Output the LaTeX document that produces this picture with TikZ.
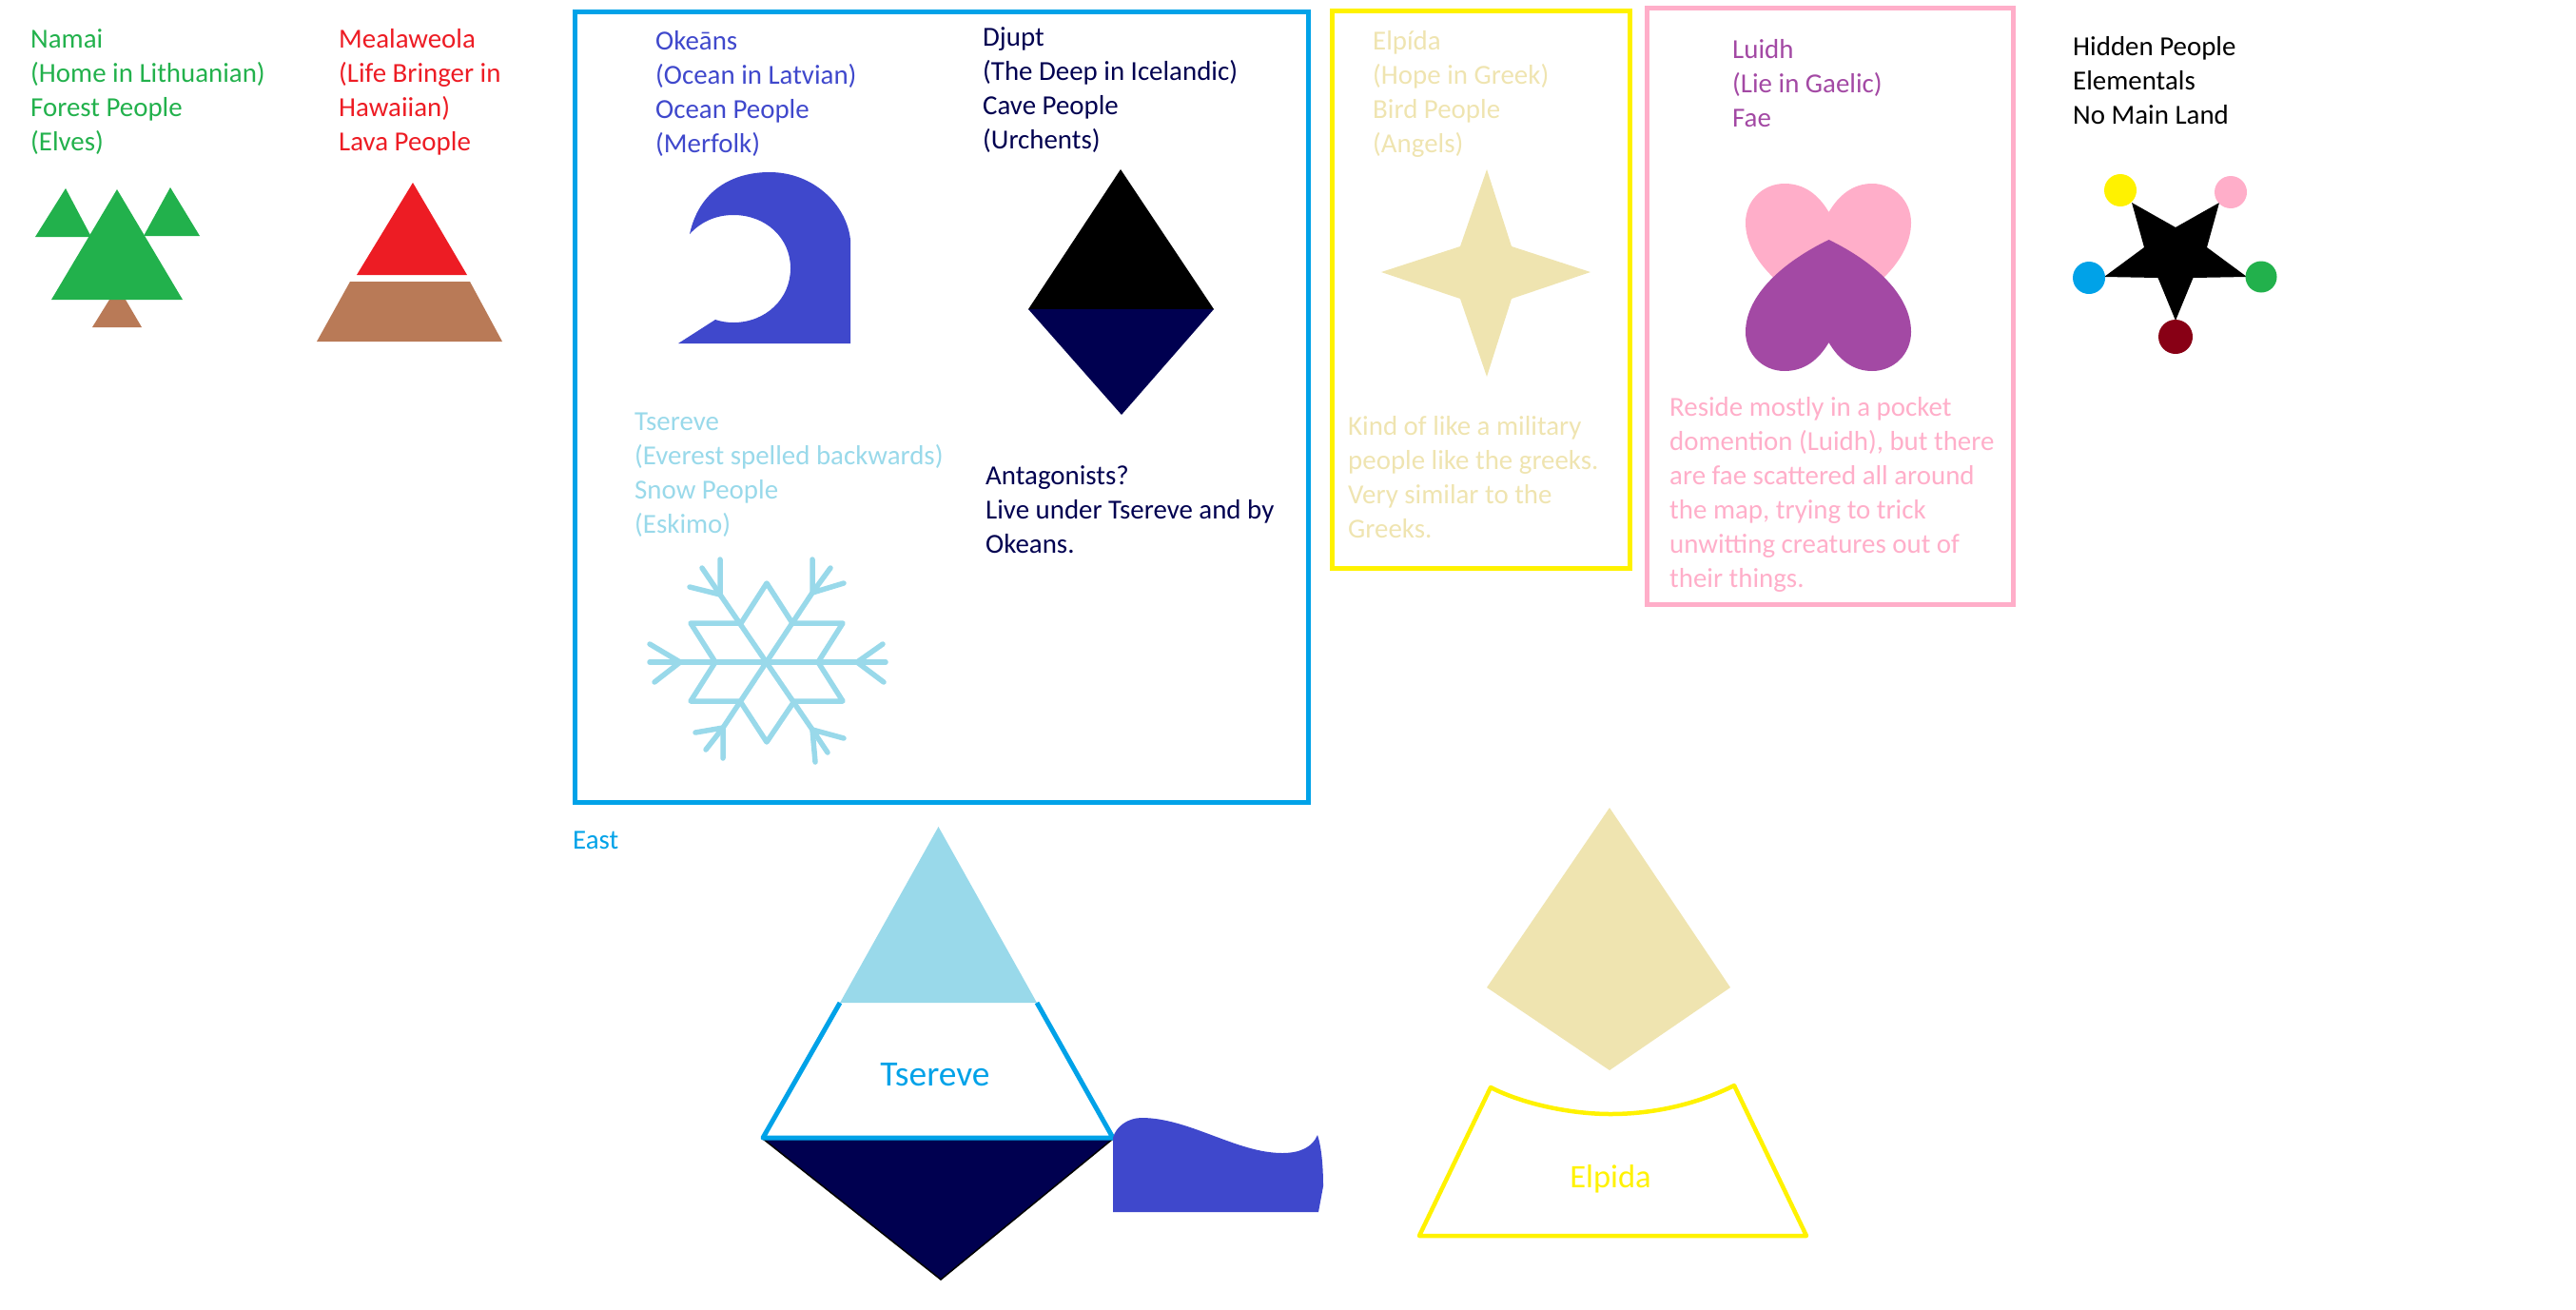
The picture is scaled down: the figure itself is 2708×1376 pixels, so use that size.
\documentclass[tikz,border=0pt]{standalone}
\usepackage{fontspec}
\setmainfont{Carlito}
\definecolor{forest}{HTML}{22B14C}
\definecolor{lava}{HTML}{ED1C24}
\definecolor{earth}{HTML}{B97A57}
\definecolor{ocean}{HTML}{3F48CC}
\definecolor{deep}{HTML}{000050}
\definecolor{east}{HTML}{00A2E8}
\definecolor{snow}{HTML}{99D9EA}
\definecolor{bird}{HTML}{EFE4B0}
\definecolor{sun}{HTML}{FFF200}
\definecolor{fae}{HTML}{FFAEC9}
\definecolor{faedark}{HTML}{A349A4}
\definecolor{blood}{HTML}{880015}
\tikzset{
  lbl/.style={font=\fontsize{28.9}{36}\selectfont,align=left,inner sep=0pt,anchor=base west},
  biglbl/.style={font=\fontsize{37.5}{45}\selectfont,inner sep=0pt,anchor=base},
  frame/.style={line width=5pt},
  flake/.style={snow,line width=5.5pt,line join=round,line cap=round},
  gem/.style={circle,inner sep=0pt,minimum size=#1}
}
\begin{document}
\begin{tikzpicture}[x=1pt,y=-1pt]
    \useasboundingbox (0,0) rectangle (2708,1376);

    % Forest people
    \node[lbl,forest] (namai) at (32,158) {Namai\\(Home in Lithuanian)\\Forest People\\(Elves)};
    \fill[earth] (115,315) -- (132,315) -- (149,344) -- (97,344) -- cycle;
    \fill[forest] (69,198) -- (96,249) -- (37,249) -- cycle;
    \fill[forest] (179,197) -- (210,248) -- (151,248) -- cycle;
    \fill[forest] (123,199) -- (192,315) -- (54,315) -- cycle;

    % Lava people
    \node[lbl,lava] (mealaweola) at (356,158) {Mealaweola\\(Life Bringer in\\Hawaiian)\\Lava People};
    \fill[lava] (434,192) -- (491,289) -- (375,289) -- cycle;
    \fill[earth] (368,296) -- (494,296) -- (528,359) -- (333,359) -- cycle;

    % East box
    \draw[frame,east] (604,12.5) rectangle (1375.5,843);
    \node[lbl,east] (east) at (602,892) {East};

    % Ocean people
    \node[lbl,ocean] (okeans) at (689,160.5) {Okeāns\\(Ocean in Latvian)\\Ocean People\\(Merfolk)};
    \fill[ocean] (725,246) .. controls (738,232) and (754,226) .. (771,226)
      .. controls (805,226) and (831,250) .. (831,282)
      .. controls (831,314) and (805,339) .. (771,339)
      .. controls (764,339) and (758,338) .. (752,336)
      -- (713,361) -- (894,361) -- (894,252)
      .. controls (890,215) and (855,181) .. (809,181)
      .. controls (770,181) and (735,200) .. (725,246) -- cycle;

    % Cave people
    \node[lbl,deep] (djupt) at (1033,156) {Djupt\\(The Deep in Icelandic)\\Cave People\\(Urchents)};
    \fill[black] (1178,178) -- (1276,325) -- (1081,325) -- cycle;
    \fill[deep] (1081,325) -- (1276,325) -- (1179,436) -- cycle;
    \node[lbl,deep] (antagonists) at (1036,581) {Antagonists?\\Live under Tsereve and by\\Okeans.};

    % Snow people
    \node[lbl,snow] (tsereve) at (667,560) {Tsereve\\(Everest spelled backwards)\\Snow People\\(Eskimo)};
    \draw[flake] (806,613) -- (833,655) -- (886,655) -- (860,696) -- (886,737) -- (835,737) -- (806,780)
      -- (778,737) -- (726,737) -- (752,696) -- (726,655) -- (779,655) -- cycle;
    \draw[flake] (683,696) -- (931,696);
    \draw[flake] (683,677) -- (715,696) -- (688,717);
    \draw[flake] (928,677) -- (901,696) -- (929,717);
    \draw[flake] (757,588) -- (757,625) -- (854,767) -- (857,801);
    \draw[flake] (725,617) -- (757,625) -- (738,597);
    \draw[flake] (887,776) -- (854,767) -- (870,791);
    \draw[flake] (854,588) -- (854,623) -- (760,765) -- (760,797);
    \draw[flake] (873,597) -- (854,623) -- (887,613);
    \draw[flake] (731,770) -- (760,765) -- (742,788);

    % Bird people
    \draw[frame,sun] (1400.5,11.5) rectangle (1713.5,597.5);
    \node[lbl,bird] (elpida) at (1443,160.5) {Elpída\\(Hope in Greek)\\Bird People\\(Angels)};
    \fill[bird] (1563,178) -- (1589,259) -- (1672,286) -- (1589,314) -- (1563,396)
      -- (1535,314) -- (1452,286) -- (1535,259) -- cycle;
    \node[lbl,bird] (military) at (1417,565) {Kind of like a military\\people like the greeks.\\Very similar to the\\Greeks.};

    % Fae
    \draw[frame,fae] (1731.5,8.5) rectangle (2116.5,635.5);
    \node[lbl,faedark] (luidh) at (1821,133.5) {Luidh\\(Lie in Gaelic)\\Fae};
    \fill[fae] (1922.5,331) .. controls (1875,308) and (1835,273) .. (1835,234)
      .. controls (1835,211) and (1853,193) .. (1876,193)
      .. controls (1897,193) and (1912,205) .. (1922.5,223)
      .. controls (1933,205) and (1948,193) .. (1968,193)
      .. controls (1991,193) and (2009,211) .. (2009,234)
      .. controls (2009,273) and (1970,308) .. (1922.5,331) -- cycle;
    \fill[faedark] (1922.5,252) .. controls (1875,275) and (1835,310) .. (1835,349)
      .. controls (1835,372) and (1853,390) .. (1876,390)
      .. controls (1897,390) and (1912,378) .. (1922.5,360)
      .. controls (1933,378) and (1948,390) .. (1968,390)
      .. controls (1991,390) and (2009,372) .. (2009,349)
      .. controls (2009,310) and (1970,275) .. (1922.5,252) -- cycle;
    \node[lbl,fae] (reside) at (1755,617) {Reside mostly in a pocket\\domention (Luidh), but there\\are fae scattered all around\\the map, trying to trick\\unwitting creatures out of\\their things.};

    % Hidden people
    \node[lbl,black] (hidden) at (2179,130) {Hidden People\\Elementals\\No Main Land};
    \fill[black] (2241,213) -- (2287,239) -- (2333,213) -- (2320,260) -- (2362,291) -- (2305.5,292)
      -- (2287,337) -- (2268.5,292) -- (2212,291) -- (2254,260) -- cycle;
    \node[gem=34pt,fill=sun] (gemyellow) at (2229,200) {};
    \node[gem=34pt,fill=fae] (gempink) at (2345,202) {};
    \node[gem=34pt,fill=east] (gemblue) at (2196,292) {};
    \node[gem=33pt,fill=forest] (gemgreen) at (2377,291) {};
    \node[gem=36pt,fill=blood] (gemred) at (2287,354) {};

    % Tsereve land
    \fill[snow] (986.5,869) -- (1090,1054) -- (883,1054) -- cycle;
    \filldraw[fill=deep,draw=black,line width=1.5pt] (802,1197) -- (1170,1197) -- (989,1345) -- cycle;
    \draw[frame,east,line join=round] (883,1054) -- (802,1196) -- (1170,1196) -- (1090,1054);
    \node[biglbl,east] (tserevemap) at (983,1141) {Tsereve};
    \fill[ocean] (1170,1196) .. controls (1173,1184) and (1186,1175) .. (1200,1175)
      .. controls (1250,1175) and (1300,1212) .. (1348,1212)
      .. controls (1368,1212) and (1380,1205) .. (1385,1193)
      .. controls (1389,1205) and (1391,1225) .. (1391,1247)
      -- (1386,1274) -- (1170,1274) -- cycle;

    % Elpida land
    \fill[bird] (1692,849) -- (1819,1038) -- (1692,1125) -- (1563,1038) -- cycle;
    \draw[sun,line width=4.5pt,line join=round] (1492,1299) -- (1567,1143)
      .. controls (1600,1160) and (1650,1171) .. (1693,1171)
      .. controls (1740,1171) and (1785,1160) .. (1823,1141) -- (1899,1299) -- cycle;
    \node[biglbl,sun,font=\fontsize{34.5}{42}\selectfont] (elpidamap) at (1693,1248) {Elpida};
\end{tikzpicture}
\end{document}
